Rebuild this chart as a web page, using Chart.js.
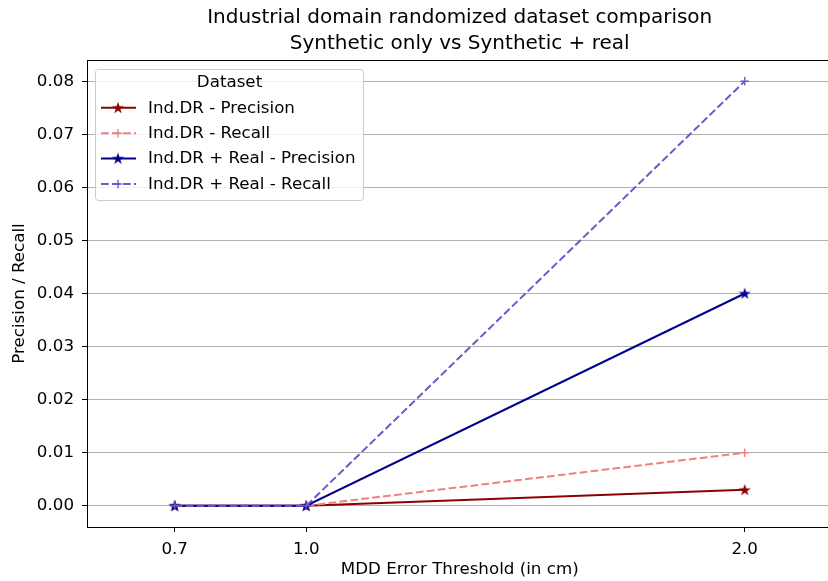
<!DOCTYPE html>
<html>
<head>
<meta charset="utf-8">
<title>Industrial domain randomized dataset comparison</title>
<script src="https://cdn.jsdelivr.net/npm/chart.js@4.4.0/dist/chart.umd.min.js"></script>
<style>
    html, body { margin: 0; padding: 0; background: #fff; overflow: hidden; }
    #wrap { width: 828px; height: 581px; overflow: hidden; }
</style>
</head>
<body>
<div id="wrap"><canvas id="chart" width="838" height="581"></canvas></div>
<script>
/*--------------------DATA--------------------*/
const thresholds = [0.7, 1.0, 2.0];
const drPrecision = [0, 0, 0.003];
const drRecall = [0, 0, 0.01];
const realPrecision = [0, 0, 0.04];
const realRecall = [0, 0, 0.08];
const xTicks = [0.7, 1.0, 2.0];
const yTicks = [0, 0.01, 0.02, 0.03, 0.04, 0.05, 0.06, 0.07, 0.08];
const seriesNames = ['Ind.DR - Precision', 'Ind.DR - Recall', 'Ind.DR + Real - Precision', 'Ind.DR + Real - Recall'];

const FONT = '"DejaVu Sans", sans-serif';
const FS = 16.7;

/*--------------------HELPERS--------------------*/
function starPath(ctx, cx, cy, r) {
    let inner = r * 0.382;
    ctx.beginPath();
    for (let i = 0; i < 10; i++) {
        let rad = (i % 2 == 0) ? r : inner;
        let a = -Math.PI / 2 + i * Math.PI / 5;
        let px = cx + rad * Math.cos(a);
        let py = cy + rad * Math.sin(a);
        if (i == 0) ctx.moveTo(px, py); else ctx.lineTo(px, py);
    }
    ctx.closePath();
}

function makeStar(color) {
    let c = document.createElement('canvas');
    c.width = 14;
    c.height = 14;
    let g = c.getContext('2d');
    starPath(g, 7, 7.4, 4.4);
    g.fillStyle = color;
    g.strokeStyle = color;
    g.lineWidth = 1.2;
    g.lineJoin = 'miter';
    g.fill();
    g.stroke();
    return c;
}

function points(ys) {
    return thresholds.map((x, i) => ({ x: x, y: ys[i] }));
}

const styles = [
    { color: '#8b0000', dash: [], marker: 'star' },
    { color: '#f08080', dash: [7.7, 3.3], marker: 'plus' },
    { color: '#00008b', dash: [], marker: 'star' },
    { color: '#6a5acd', dash: [7.7, 3.3], marker: 'plus' }
];
const values = [drPrecision, drRecall, realPrecision, realRecall];

let datasets = values.map((v, i) => {
    let s = styles[i];
    return {
        label: seriesNames[i],
        data: points(v),
        borderColor: s.color,
        backgroundColor: s.color,
        borderWidth: 2,
        borderDash: s.dash,
        pointStyle: s.marker == 'star' ? makeStar(s.color) : 'cross',
        pointRadius: 4.2,
        pointBorderWidth: 1.4,
        pointBorderColor: s.color,
        tension: 0,
        order: 3 - i
    };
});

/*--------------------PLUGINS--------------------*/
const frameLine = {
    id: 'frameLine',
    afterDraw(chart) {
        let ctx = chart.ctx;
        let a = chart.chartArea;
        ctx.save();
        ctx.strokeStyle = '#000';
        ctx.lineWidth = 1;
        ctx.beginPath();
        ctx.moveTo(a.left, Math.round(a.top) + 0.5);
        ctx.lineTo(a.right, Math.round(a.top) + 0.5);
        ctx.stroke();
        ctx.restore();
    }
};

const boxLegend = {
    id: 'boxLegend',
    afterDraw(chart) {
        let ctx = chart.ctx;
        let x0 = 95.5, y0 = 69.5, w = 268, h = 131;
        ctx.save();
        ctx.fillStyle = 'rgba(255,255,255,0.8)';
        ctx.strokeStyle = '#cccccc';
        ctx.lineWidth = 1;
        ctx.beginPath();
        ctx.roundRect(x0, y0, w, h, 3);
        ctx.fill();
        ctx.stroke();

        ctx.fillStyle = '#000';
        ctx.font = FS + 'px ' + FONT;
        ctx.textBaseline = 'middle';
        ctx.textAlign = 'center';
        ctx.fillText('Dataset', x0 + w / 2, 83);

        let rows = [107.7, 133.2, 158.5, 184];
        ctx.textAlign = 'left';
        styles.forEach((s, i) => {
            let y = rows[i];
            ctx.strokeStyle = s.color;
            ctx.lineWidth = 2;
            ctx.setLineDash(s.dash);
            ctx.beginPath();
            ctx.moveTo(101, y);
            ctx.lineTo(136, y);
            ctx.stroke();
            ctx.setLineDash([]);
            if (s.marker == 'star') {
                let img = makeStar(s.color);
                ctx.drawImage(img, 118 - 7, y - 7);
            } else {
                ctx.lineWidth = 1.4;
                ctx.beginPath();
                ctx.moveTo(118 - 4.2, y);
                ctx.lineTo(118 + 4.2, y);
                ctx.moveTo(118, y - 4.2);
                ctx.lineTo(118, y + 4.2);
                ctx.stroke();
            }
            ctx.fillStyle = '#000';
            ctx.fillText(seriesNames[i], 148, y + 0.5);
        });
        ctx.restore();
    }
};

/*--------------------CHART--------------------*/
let canvas = document.getElementById('chart');
let chart = new Chart(canvas, {
    type: 'line',
    data: { datasets: datasets },
    plugins: [frameLine, boxLegend],
    options: {
        responsive: false,
        animation: false,
        layout: { padding: 0 },
        plugins: {
            legend: { display: false },
            tooltip: { enabled: false },
            title: {
                display: true,
                text: ['Industrial domain randomized dataset comparison', 'Synthetic only vs Synthetic + real'],
                color: '#000',
                fullSize: false,
                font: { family: FONT, size: 20, weight: 'normal', lineHeight: 1.3 },
                padding: { top: 5, bottom: 3 }
            }
        },
        scales: {
            x: {
                type: 'linear',
                min: 0.5,
                max: 2.2,
                afterBuildTicks: (scale) => { scale.ticks = xTicks.map(v => ({ value: v })); },
                afterFit: (scale) => { scale.height = 54; },
                grid: { drawOnChartArea: false, tickLength: 5, tickColor: '#000', tickWidth: 1 },
                border: { color: '#000', width: 1 },
                ticks: {
                    color: '#000',
                    padding: 8,
                    maxRotation: 0,
                    font: { family: FONT, size: FS },
                    callback: (v) => Number(v).toFixed(1)
                },
                title: {
                    display: true,
                    text: 'MDD Error Threshold (in cm)',
                    color: '#000',
                    font: { family: FONT, size: FS },
                    padding: { top: 0, bottom: 1 }
                }
            },
            y: {
                min: -0.004,
                max: 0.084,
                afterBuildTicks: (scale) => { scale.ticks = yTicks.map(v => ({ value: v })); },
                afterFit: (scale) => { scale.width = 87; },
                grid: { color: '#b0b0b0', lineWidth: 1, tickLength: 5, tickColor: '#000', tickWidth: 1 },
                border: { color: '#000', width: 1 },
                ticks: {
                    color: '#000',
                    padding: 8,
                    font: { family: FONT, size: FS },
                    callback: (v) => Number(v).toFixed(2)
                },
                title: {
                    display: true,
                    text: 'Precision / Recall',
                    color: '#000',
                    font: { family: FONT, size: FS },
                    padding: { top: 10, bottom: 0 }
                }
            }
        }
    }
});
</script>
</body>
</html>
